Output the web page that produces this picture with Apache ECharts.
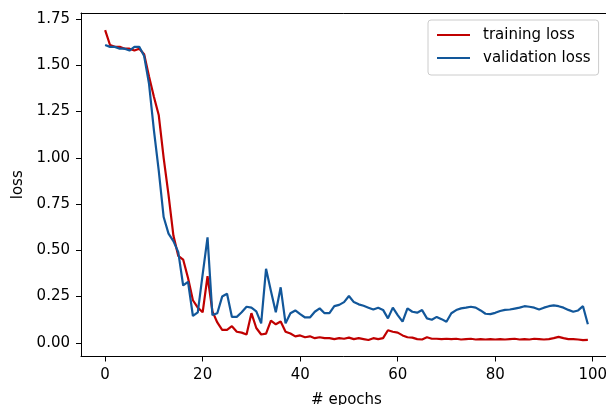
<!DOCTYPE html>
<html>
<head>
<meta charset="utf-8">
<script src="https://cdn.jsdelivr.net/npm/echarts@6/dist/echarts.min.js"></script>
<style>
html,body{margin:0;padding:0;background:#fff;}
#main{width:606px;height:405px;}
</style>
</head>
<body>
<div id="main"></div>
<script>
// epochs 0..99
var epochs = [];
for (var i = 0; i < 100; i++) epochs.push(i);

var trainingLoss = [
    1.69, 1.61, 1.60, 1.60, 1.59, 1.59, 1.58, 1.59, 1.56, 1.44,
    1.33, 1.23, 1.00, 0.80, 0.58, 0.47, 0.45, 0.35, 0.23, 0.19,
    0.165, 0.36, 0.17, 0.11, 0.07, 0.07, 0.09, 0.06, 0.055, 0.045,
    0.16, 0.08, 0.045, 0.05, 0.12, 0.10, 0.115, 0.06, 0.05, 0.035,
    0.04, 0.03, 0.035, 0.025, 0.03, 0.025, 0.025, 0.02, 0.025, 0.022,
    0.028, 0.02, 0.025, 0.02, 0.015, 0.025, 0.02, 0.025, 0.068, 0.06,
    0.055, 0.04, 0.03, 0.028, 0.02, 0.018, 0.03, 0.022, 0.022, 0.02,
    0.022, 0.02, 0.022, 0.018, 0.02, 0.022, 0.018, 0.02, 0.018, 0.02,
    0.018, 0.02, 0.018, 0.02, 0.022, 0.018, 0.02, 0.018, 0.022, 0.02,
    0.018, 0.02, 0.025, 0.032, 0.025, 0.02, 0.02, 0.018, 0.015, 0.016
];
var validationLoss = [
    1.61, 1.60, 1.60, 1.59, 1.59, 1.58, 1.60, 1.60, 1.55, 1.40,
    1.15, 0.93, 0.68, 0.59, 0.55, 0.49, 0.31, 0.33, 0.145, 0.165,
    0.37, 0.57, 0.15, 0.16, 0.25, 0.265, 0.14, 0.14, 0.165, 0.195,
    0.19, 0.17, 0.105, 0.40, 0.28, 0.165, 0.30, 0.105, 0.16, 0.175,
    0.155, 0.137, 0.137, 0.168, 0.186, 0.16, 0.16, 0.198, 0.205, 0.22,
    0.253, 0.22, 0.208, 0.20, 0.19, 0.18, 0.19, 0.178, 0.132, 0.19,
    0.15, 0.114, 0.186, 0.168, 0.163, 0.177, 0.132, 0.125, 0.14, 0.128,
    0.114, 0.16, 0.177, 0.186, 0.19, 0.195, 0.19, 0.175, 0.157, 0.155,
    0.162, 0.172, 0.178, 0.18, 0.185, 0.19, 0.198, 0.195, 0.19, 0.18,
    0.19, 0.198, 0.202, 0.198, 0.19, 0.178, 0.168, 0.175, 0.198, 0.10
];
var xTicks = [0, 20, 40, 60, 80, 100];
var yTicks = [0, 0.25, 0.5, 0.75, 1.0, 1.25, 1.5, 1.75];

function pairs(vals) {
    return epochs.map(function (e, i) { return [e, vals[i]]; });
}

var font = 'DejaVu Sans';
var chart = echarts.init(document.getElementById('main'));
var option = {
    animation: false,
    backgroundColor: '#fff',
    grid: {
        left: 81, top: 13, right: -6, bottom: 48.5,
        outerBoundsMode: 'none'
    },
    legend: {
        orient: 'vertical',
        left: 428, top: 20,
        padding: [7, 8, 9, 9],
        itemGap: 7,
        itemWidth: 33, itemHeight: 2,
        borderColor: '#cccccc', borderWidth: 1, borderRadius: 3,
        backgroundColor: 'rgba(255,255,255,0.8)',
        textStyle: { fontFamily: font, fontSize: 15, color: '#000', lineHeight: 16, padding: [0, 0, 0, 8] },
        data: [
            { name: 'training loss', icon: 'rect' },
            { name: 'validation loss', icon: 'rect' }
        ]
    },
    xAxis: [{
        type: 'value',
        min: -4.95, max: 103.95,
        name: '# epochs', nameLocation: 'middle', nameGap: 36,
        nameTextStyle: { fontFamily: font, fontSize: 15, color: '#000' },
        splitLine: { show: false },
        axisLine: { show: true, onZero: false, lineStyle: { color: '#000' } },
        axisTick: { show: true, length: 5, lineStyle: { color: '#000' }, customValues: xTicks },
        axisLabel: { fontFamily: font, fontSize: 15, color: '#000', margin: 11, customValues: xTicks }
    }, {
        // top spine only
        type: 'value', position: 'top',
        min: -4.95, max: 103.95,
        splitLine: { show: false },
        axisLine: { show: true, onZero: false, lineStyle: { color: '#000' } },
        axisTick: { show: false },
        axisLabel: { show: false }
    }],
    yAxis: {
        type: 'value',
        min: -0.074, max: 1.783,
        name: 'loss', nameLocation: 'middle', nameGap: 55, nameRotate: 90,
        nameTextStyle: { fontFamily: font, fontSize: 15, color: '#000' },
        splitLine: { show: false },
        axisLine: { show: true, onZero: false, lineStyle: { color: '#000' } },
        axisTick: { show: true, length: 5, lineStyle: { color: '#000' }, customValues: yTicks },
        axisLabel: {
            fontFamily: font, fontSize: 15, color: '#000', margin: 11, customValues: yTicks,
            formatter: function (v) { return v.toFixed(2); }
        }
    },
    series: [
        {
            name: 'training loss', type: 'line', symbol: 'none',
            data: pairs(trainingLoss),
            itemStyle: { color: '#c00000' },
            lineStyle: { color: '#c00000', width: 2.2 }
        },
        {
            name: 'validation loss', type: 'line', symbol: 'none',
            data: pairs(validationLoss),
            itemStyle: { color: '#12579a' },
            lineStyle: { color: '#12579a', width: 2.2 }
        }
    ]
};
option && chart.setOption(option);
</script>
</body>
</html>
